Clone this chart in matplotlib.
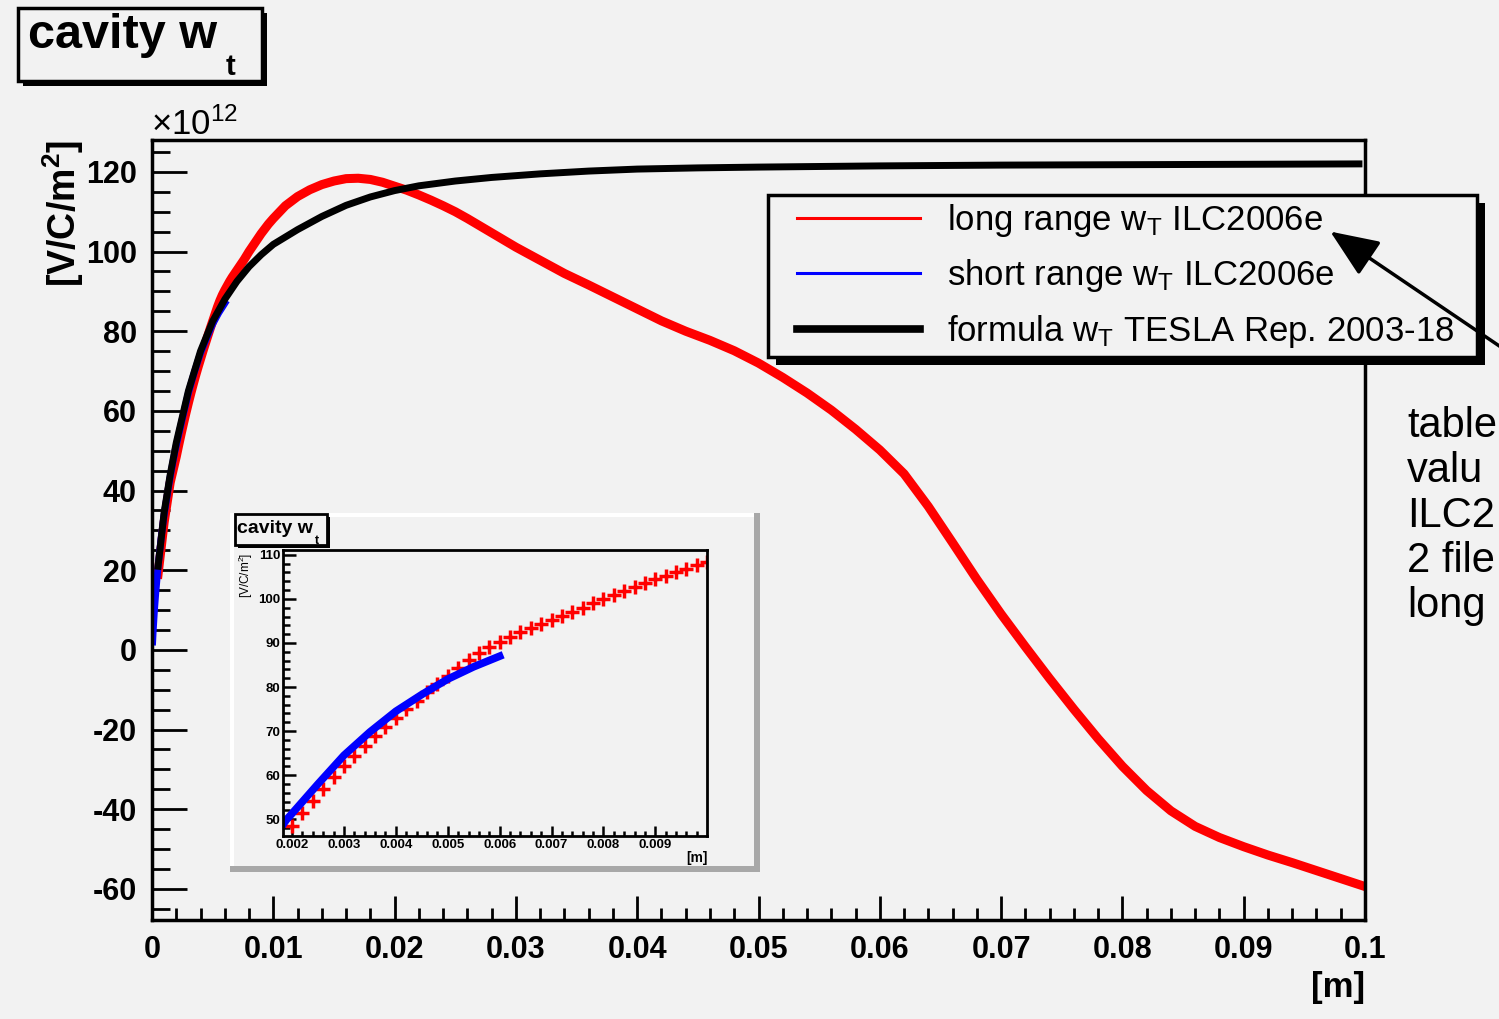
import numpy as np
import matplotlib
matplotlib.use('Agg')
import matplotlib.pyplot as plt
from matplotlib.patches import Rectangle, FancyArrowPatch
from matplotlib.lines import Line2D
from matplotlib.legend_handler import HandlerLine2D
from matplotlib.ticker import MultipleLocator, FuncFormatter

plt.rcParams['font.family'] = ['Liberation Sans', 'DejaVu Sans']
plt.rcParams['mathtext.fontset'] = 'custom'
plt.rcParams['mathtext.rm'] = 'Liberation Sans'
plt.rcParams['mathtext.bf'] = 'Liberation Sans:bold'
plt.rcParams['mathtext.it'] = 'Liberation Sans:italic'
plt.rcParams['axes.unicode_minus'] = False

BG = '#f2f2f2'
W, H = 1499, 1019

# ── data: x in [m], wake in [1e12 V/C/m^2] ─────────────────────────────
red_x = [0.0005, 0.0010, 0.0015,
         0.0020, 0.0022, 0.0024, 0.0026, 0.0028, 0.0030, 0.0032, 0.0034,
         0.0036, 0.0038, 0.0040, 0.0042, 0.0044, 0.0046, 0.0048, 0.0050,
         0.0052, 0.0054, 0.0056, 0.0058, 0.0060, 0.0062, 0.0064, 0.0066,
         0.0068, 0.0070, 0.0072, 0.0074, 0.0076, 0.0078, 0.0080, 0.0082,
         0.0084, 0.0086, 0.0088, 0.0090, 0.0092, 0.0094, 0.0096, 0.0098,
         0.0100,
         0.011, 0.012, 0.013, 0.014, 0.015, 0.016, 0.017, 0.018, 0.019,
         0.020, 0.021, 0.022, 0.023, 0.024, 0.025, 0.026, 0.027, 0.028,
         0.029, 0.030,
         0.032, 0.034, 0.036, 0.038, 0.040, 0.042, 0.044, 0.046, 0.048,
         0.050, 0.052, 0.054, 0.056, 0.058, 0.060, 0.062, 0.064, 0.066,
         0.068, 0.070, 0.072, 0.074, 0.076, 0.078, 0.080, 0.082, 0.084,
         0.086, 0.088, 0.090, 0.092, 0.094, 0.096, 0.098, 0.100]
red_y = [19.0, 32.0, 42.0,
         48.5, 51.4, 54.2, 56.9, 59.5, 62.0, 64.4, 66.7,
         68.9, 71.0, 73.0, 75.0, 76.9, 78.8, 80.7, 82.5,
         84.3, 86.1, 87.7, 89.1, 90.3, 91.4, 92.5, 93.5,
         94.4, 95.3, 96.2, 97.1, 98.0, 99.0, 100.0, 100.9,
         101.8, 102.7, 103.6, 104.5, 105.3, 106.1, 106.9, 107.6,
         108.3,
         111.5, 113.8, 115.5, 116.8, 117.7, 118.3, 118.4, 118.1, 117.4,
         116.4, 115.4, 114.2, 112.9, 111.5, 110.0, 108.3, 106.5, 104.7,
         102.9, 101.1,
         97.8, 94.5, 91.6, 88.6, 85.6, 82.6, 80.0, 77.7, 75.1,
         72.0, 68.4, 64.5, 60.2, 55.4, 50.2, 44.2, 36.0, 26.9,
         17.7, 9.0, 0.8, -7.2, -14.9, -22.3, -29.2, -35.3, -40.4,
         -44.3, -47.1, -49.4, -51.5, -53.4, -55.4, -57.4, -59.4]

blue_x = [0.00005, 0.0001, 0.0002, 0.0003, 0.0004, 0.0005, 0.00075, 0.0010,
          0.0015, 0.0019, 0.0020, 0.0025, 0.0030, 0.0035, 0.0040, 0.0045,
          0.0050, 0.0055, 0.0060]
blue_y = [2.0, 5.0, 10.0, 14.0, 17.5, 21.0, 28.0, 34.0,
          43.5, 50.0, 51.3, 58.0, 64.5, 69.8, 74.5, 78.3,
          81.8, 84.6, 87.0]

black_x = [0.0005, 0.0010, 0.0015, 0.0020, 0.0030, 0.0040, 0.0050, 0.0060,
           0.0070, 0.0080, 0.0090, 0.0100, 0.012, 0.014, 0.016, 0.018,
           0.020, 0.022, 0.025, 0.028, 0.032, 0.036, 0.040, 0.045, 0.050,
           0.060, 0.070, 0.080, 0.090, 0.0995]
black_y = [21.0, 34.5, 44.0, 52.0, 65.0, 75.0, 82.5, 88.0,
           92.5, 96.2, 99.2, 101.8, 105.5, 108.8, 111.6, 113.7,
           115.3, 116.5, 117.7, 118.6, 119.5, 120.2, 120.7, 121.0, 121.2,
           121.5, 121.7, 121.8, 121.9, 122.0]

labels = [r'long range w$_\mathregular{T}$ ILC2006e',
          r'short range w$_\mathregular{T}$ ILC2006e',
          r'formula w$_\mathregular{T}$ TESLA Rep. 2003-18']
# side note, cut by the right edge of the canvas in the original
note_lines = ['table', 'valu', 'ILC2', '2 file', 'long']


def fx(px):
    return px / W


def fy(py):
    return 1 - py / H


def axes_px(x0, y0, x1, y1, **kw):
    return fig.add_axes([fx(x0), fy(y1), (x1 - x0) / W, (y1 - y0) / H], **kw)


def gfmt(v, pos):
    return f'{v:g}'


def shadow_box(ax, x, y, w, h, off, lw=2.5):
    ax.add_patch(Rectangle((x + off, y + off), w, h, facecolor='black',
                           edgecolor='none'))
    ax.add_patch(Rectangle((x, y), w, h, facecolor=BG, edgecolor='black',
                           lw=lw))


fig = plt.figure(figsize=(W / 100, H / 100), dpi=100)
fig.patch.set_facecolor(BG)

# ── main plot ─────────────────────────────────────────────────────────
ax = axes_px(152, 140, 1365, 920, zorder=1)
ax.set_facecolor(BG)
ax.plot(red_x, red_y, color='#ff0000', lw=6.5, solid_joinstyle='round')
ax.plot(blue_x, blue_y, color='#0000ff', lw=5)
ax.plot(black_x, black_y, color='black', lw=5, solid_joinstyle='round')
ax.set_xlim(0, 0.1)
ax.set_ylim(-67.8, 128)
ax.xaxis.set_major_locator(MultipleLocator(0.01))
ax.xaxis.set_minor_locator(MultipleLocator(0.002))
ax.yaxis.set_major_locator(MultipleLocator(20))
ax.yaxis.set_minor_locator(MultipleLocator(5))
ax.xaxis.set_major_formatter(FuncFormatter(gfmt))
ax.tick_params(which='both', direction='in', top=False, right=False,
               width=2, labelsize=22)
ax.tick_params(axis='y', which='major', length=25, pad=11)
ax.tick_params(axis='y', which='minor', length=13)
ax.tick_params(axis='x', which='major', length=17, pad=11)
ax.tick_params(axis='x', which='minor', length=9)
for lbl in ax.get_xticklabels() + ax.get_yticklabels():
    lbl.set_fontweight('bold')
for sp in ax.spines.values():
    sp.set_linewidth(2.5)

fig.text(fx(63), fy(140), r'[V/C/m$^{\mathbf{2}}$]', rotation=90,
         ha='center', va='top', fontsize=27, fontweight='bold')
fig.text(fx(151), fy(135), r'×10$^{12}$', ha='left', va='baseline',
         fontsize=25)
fig.text(fx(1365), fy(988), '[m]', ha='right', va='center', fontsize=25,
         fontweight='bold')

# ── overlay in pixel coordinates (boxes, inset pad, note) ─────────────
bg = fig.add_axes([0, 0, 1, 1], zorder=2)
bg.set_xlim(0, W)
bg.set_ylim(H, 0)
bg.axis('off')

shadow_box(bg, 18, 8, 244, 73, 5)
bg.text(28, 48, 'cavity w', fontsize=35, fontweight='bold', va='baseline')
bg.text(226, 75, 't', fontsize=21, fontweight='bold', va='baseline')

# inset pad with bevel
bg.add_patch(Rectangle((230, 513), 530, 359, facecolor=BG, edgecolor='none'))
bg.add_patch(Rectangle((230, 513), 530, 4, facecolor='white'))
bg.add_patch(Rectangle((230, 513), 4, 359, facecolor='white'))
bg.add_patch(Rectangle((230, 866), 530, 6, facecolor='#a8a8a8'))
bg.add_patch(Rectangle((754, 513), 6, 359, facecolor='#a8a8a8'))
shadow_box(bg, 235, 514, 92, 31, 3, lw=2)
bg.text(237, 533, 'cavity w', fontsize=14, fontweight='bold', va='baseline')
bg.text(315, 544, 't', fontsize=9, fontweight='bold', va='baseline')
bg.text(246, 553, r'[V/C/m$^2$]', rotation=90, ha='center', va='top',
        fontsize=8.5)
bg.text(708, 858, '[m]', ha='right', va='center', fontsize=10,
        fontweight='bold')

for i, line in enumerate(note_lines):
    bg.text(1407, 437 + 45 * i, line, fontsize=30, va='baseline')

# ── inset ─────────────────────────────────────────────────────────────
iax = axes_px(283, 550, 707, 836, zorder=4)
iax.set_facecolor(BG)
iax.plot(red_x, red_y, ls='none', marker='+', ms=9.5, mew=2.5,
         color='#ff0000')
iax.plot(blue_x, blue_y, color='#0000ff', lw=5.5)
iax.set_xlim(0.001826, 0.009995)
iax.set_ylim(46.2, 111.1)
iax.xaxis.set_major_locator(MultipleLocator(0.001))
iax.xaxis.set_minor_locator(MultipleLocator(0.0002))
iax.yaxis.set_major_locator(MultipleLocator(10))
iax.yaxis.set_minor_locator(MultipleLocator(2))
iax.xaxis.set_major_formatter(FuncFormatter(gfmt))
iax.tick_params(which='both', direction='in', top=False, right=False,
                width=1.8, labelsize=9.5)
iax.tick_params(axis='y', which='major', length=9, pad=2)
iax.tick_params(axis='y', which='minor', length=5)
iax.tick_params(axis='x', which='major', length=7, pad=2)
iax.tick_params(axis='x', which='minor', length=3.5)
for lbl in iax.get_xticklabels() + iax.get_yticklabels():
    lbl.set_fontweight('bold')
for sp in iax.spines.values():
    sp.set_linewidth(2)

# ── legend ────────────────────────────────────────────────────────────
handles = [Line2D([], [], color='#ff0000', lw=2.2),
           Line2D([], [], color='#0000ff', lw=2.2),
           Line2D([], [], color='black', lw=5.5)]
hmap = {h: HandlerLine2D(numpoints=2, marker_pad=0.63) for h in handles}
leg = fig.legend(handles, labels, loc='upper left', mode='expand',
                 bbox_to_anchor=(fx(768), fy(360), (1477 - 768) / W,
                                 (360 - 195) / H),
                 handler_map=hmap,
                 borderaxespad=0, fontsize=25, handlelength=4.81,
                 handletextpad=0.15, borderpad=0.2, labelspacing=0.53,
                 fancybox=False, framealpha=1, facecolor=BG,
                 edgecolor='black')
leg.get_frame().set_linewidth(2.5)
leg.set_zorder(5)

# black drop shadow under the legend box
fig.canvas.draw()
bb = leg.get_window_extent()
bg.add_patch(Rectangle((bb.x0 + 8, H - bb.y1 + 8), bb.width, bb.height,
                       facecolor='black'))

arrow = FancyArrowPatch((1520, 360), (1328, 230), transform=bg.transData,
                        arrowstyle='-|>,head_length=1.2,head_width=0.5',
                        mutation_scale=25, lw=2.5, color='black')
arrow.set_zorder(6)
fig.add_artist(arrow)

fig.savefig('out.png', dpi=100, facecolor=BG)
